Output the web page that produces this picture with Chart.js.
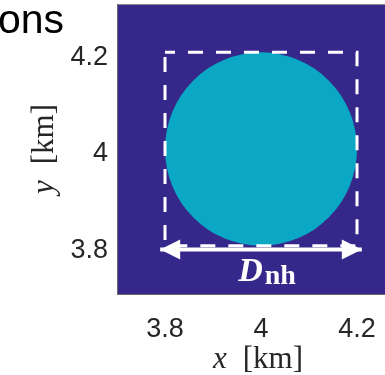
<!DOCTYPE html>
<html>
<head>
<meta charset="utf-8">
<script src="https://cdn.jsdelivr.net/npm/chart.js@4.4.1/dist/chart.umd.min.js"></script>
<style>
  html, body { margin: 0; padding: 0; background: #ffffff; width: 385px; height: 375px; overflow: hidden; }
  #wrap { position: relative; width: 405px; height: 375px; }
</style>
</head>
<body>
<div id="wrap"><canvas id="c" width="405" height="375"></canvas></div>
<script>
// Axis range and ticks (km)
const axisMin = 3.7;
const axisMax = 4.3;
const xTicks = [3.8, 4, 4.2];
const xTickLabels = ['3.8', '4', '4.2'];
const yTicks = [3.8, 4, 4.2];
const yTickLabels = ['3.8', '4', '4.2'];

// Circular patch: centre (x, y) and radius, km
const patchCenter = [4, 4];
const patchRadius = 0.2;

// Dashed bounding square, km
const boxX = [3.8, 4.2, 4.2, 3.8, 3.8];
const boxY = [4.2, 4.2, 3.8, 3.8, 4.2];

// Width arrow, km
const arrowX = [3.79, 4.21];
const arrowY = [3.792, 3.792];

const arrowLabel = 'D';
const arrowLabelSub = 'nh';
const panelTitle = 'ons';
const xTitle = ['x', '[km]'];
const yTitle = ['y', '[km]'];

const BG = '#35288a';
const PATCH = '#0aa8c5';
const TICK_COLOR = '#262626';

const panelPlugin = {
  id: 'panel',
  beforeDraw(chart) {
    const { ctx, chartArea: a } = chart;
    ctx.save();
    ctx.fillStyle = BG;
    ctx.fillRect(a.left, a.top, a.right - a.left, a.bottom - a.top);
    ctx.strokeStyle = '#8a8a8a';
    ctx.lineWidth = 1;
    ctx.beginPath();
    ctx.moveTo(a.left, a.top + 0.5);
    ctx.lineTo(a.right, a.top + 0.5);
    ctx.stroke();
    ctx.restore();
  },
  beforeDatasetsDraw(chart) {
    const { ctx, scales: { x, y } } = chart;
    const cx = x.getPixelForValue(patchCenter[0]);
    const cy = y.getPixelForValue(patchCenter[1]);
    const rx = Math.abs(x.getPixelForValue(patchCenter[0] + patchRadius) - cx);
    const ry = Math.abs(y.getPixelForValue(patchCenter[1] + patchRadius) - cy);
    ctx.save();
    ctx.fillStyle = PATCH;
    ctx.beginPath();
    ctx.ellipse(cx, cy, rx, ry, 0, 0, Math.PI * 2);
    ctx.fill();
    ctx.restore();
  },
  afterDatasetsDraw(chart) {
    const { ctx } = chart;
    const pts = chart.getDatasetMeta(1).data;
    const p0 = pts[0], p1 = pts[1];
    const headLen = 20, headHalf = 10;
    ctx.save();
    ctx.fillStyle = '#ffffff';
    // left head
    ctx.beginPath();
    ctx.moveTo(p0.x, p0.y);
    ctx.lineTo(p0.x + headLen, p0.y - headHalf);
    ctx.lineTo(p0.x + headLen, p0.y + headHalf);
    ctx.closePath();
    ctx.fill();
    // right head
    ctx.beginPath();
    ctx.moveTo(p1.x, p1.y);
    ctx.lineTo(p1.x - headLen, p1.y - headHalf);
    ctx.lineTo(p1.x - headLen, p1.y + headHalf);
    ctx.closePath();
    ctx.fill();

    // label under the arrow
    const mid = (p0.x + p1.x) / 2;
    const fMain = 'italic bold 34px "Liberation Serif", "Times New Roman", serif';
    const fSub = 'bold 28px "Liberation Serif", "Times New Roman", serif';
    ctx.font = fMain;
    const wMain = ctx.measureText(arrowLabel).width;
    ctx.font = fSub;
    const wSub = ctx.measureText(arrowLabelSub).width;
    const start = mid + 6 - (wMain + 2 + wSub) / 2;
    ctx.textBaseline = 'alphabetic';
    ctx.textAlign = 'left';
    ctx.font = fMain;
    ctx.fillText(arrowLabel, start, p0.y + 31);
    ctx.font = fSub;
    ctx.fillText(arrowLabelSub, start + wMain + 2, p0.y + 34);
    ctx.restore();
  },
  afterDraw(chart) {
    const { ctx, scales: { x, y } } = chart;
    const fIt = 'italic 31px "Liberation Serif", "Times New Roman", serif';
    const fUp = '31px "Liberation Serif", "Times New Roman", serif';
    const gap = 16;
    ctx.save();
    ctx.fillStyle = TICK_COLOR;
    ctx.textBaseline = 'alphabetic';
    ctx.textAlign = 'left';

    // x axis title
    ctx.font = fIt; const wx = ctx.measureText(xTitle[0]).width;
    ctx.font = fUp; const wk = ctx.measureText(xTitle[1]).width;
    let sx = x.getPixelForValue(4) - 3 - (wx + gap + wk) / 2;
    ctx.font = fIt; ctx.fillText(xTitle[0], sx, 368);
    ctx.font = fUp; ctx.fillText(xTitle[1], sx + wx + gap, 368);

    // y axis title, rotated
    ctx.font = fIt; const wy = ctx.measureText(yTitle[0]).width;
    ctx.font = fUp; const wk2 = ctx.measureText(yTitle[1]).width;
    ctx.translate(53, y.getPixelForValue(4));
    ctx.rotate(-Math.PI / 2);
    const sy = -(wy + gap + wk2) / 2;
    ctx.font = fIt; ctx.fillText(yTitle[0], sy, 0);
    ctx.font = fUp; ctx.fillText(yTitle[1], sy + wy + gap, 0);
    ctx.restore();

    // partial panel heading
    ctx.save();
    ctx.fillStyle = '#000000';
    ctx.font = '41px "Liberation Sans", Arial, sans-serif';
    ctx.textAlign = 'right';
    ctx.textBaseline = 'alphabetic';
    ctx.fillText(panelTitle, 64, 33);
    ctx.restore();
  }
};

new Chart(document.getElementById('c'), {
  type: 'scatter',
  data: {
    datasets: [
      {
        data: boxX.map((v, i) => ({ x: v, y: boxY[i] })),
        showLine: true,
        borderColor: '#ffffff',
        borderWidth: 3,
        borderDash: [15, 13],
        borderDashOffset: 5,
        borderJoinStyle: 'miter',
        borderCapStyle: 'butt',
        pointRadius: 0,
        fill: false,
        tension: 0
      },
      {
        data: arrowX.map((v, i) => ({ x: v, y: arrowY[i] })),
        showLine: true,
        borderColor: '#ffffff',
        borderWidth: 4,
        borderCapStyle: 'butt',
        pointRadius: 0,
        fill: false,
        tension: 0
      }
    ]
  },
  options: {
    responsive: false,
    animation: false,
    devicePixelRatio: 1,
    layout: { padding: { top: 4, left: 0, right: 0, bottom: 0 } },
    plugins: { legend: { display: false }, tooltip: { enabled: false } },
    scales: {
      x: {
        type: 'linear',
        min: axisMin,
        max: axisMax,
        afterBuildTicks: s => { s.ticks = xTicks.map(v => ({ value: v })); },
        afterFit: s => { s.height = 81; s.paddingLeft = 0; s.paddingRight = 0; },
        grid: { display: false, drawTicks: false },
        border: { display: true, color: '#6a6a6a', width: 1 },
        ticks: {
          padding: 19,
          color: TICK_COLOR,
          font: { family: '"Liberation Sans", Arial, sans-serif', size: 27 },
          callback: (v, i) => xTickLabels[i]
        }
      },
      y: {
        type: 'linear',
        min: axisMin,
        max: axisMax,
        afterBuildTicks: s => { s.ticks = yTicks.map(v => ({ value: v })); },
        afterFit: s => { s.width = 117; s.paddingTop = 0; s.paddingBottom = 0; },
        grid: { display: false, drawTicks: false },
        border: { display: true, color: '#6a6a6a', width: 1 },
        ticks: {
          padding: 9,
          labelOffset: 5,
          color: TICK_COLOR,
          font: { family: '"Liberation Sans", Arial, sans-serif', size: 27 },
          callback: (v, i) => yTickLabels[i]
        }
      }
    }
  },
  plugins: [panelPlugin]
});
</script>
</body>
</html>
